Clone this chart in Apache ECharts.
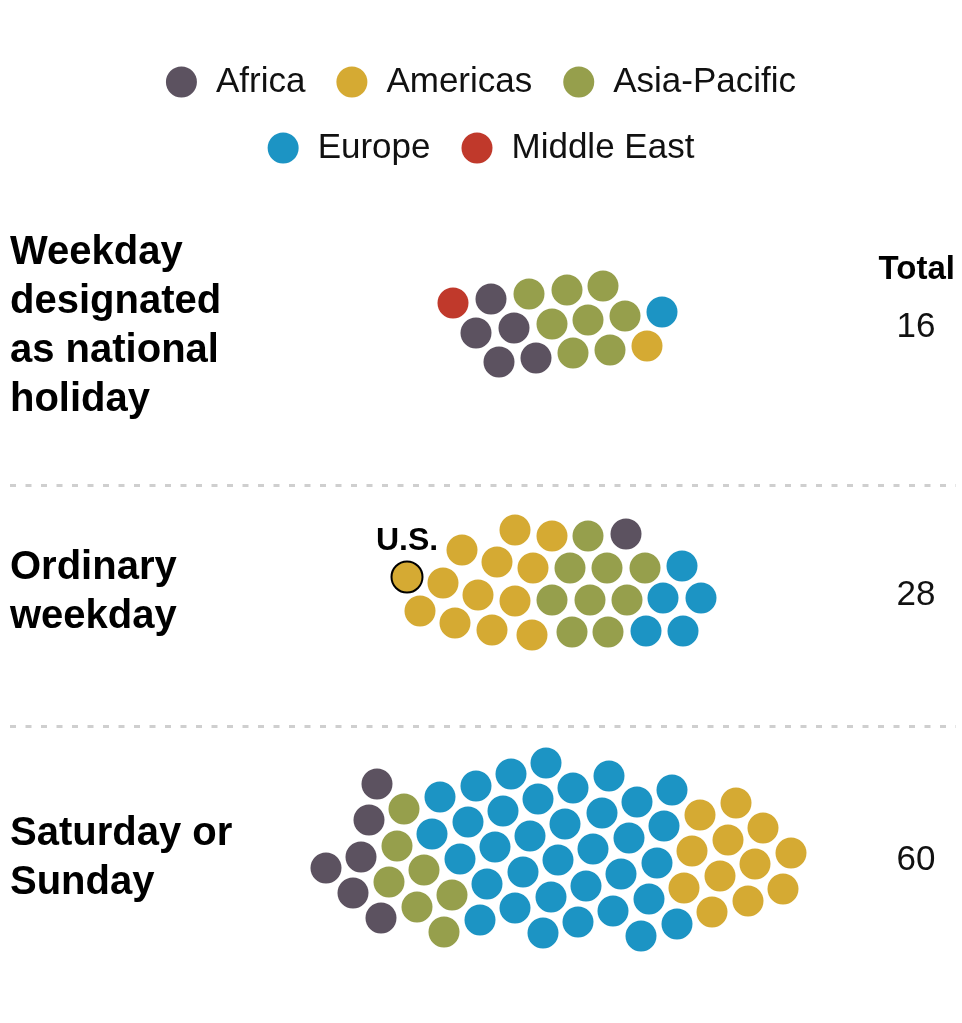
<!DOCTYPE html>
<html>
<head>
<meta charset="utf-8">
<script src="https://cdn.jsdelivr.net/npm/echarts@6/dist/echarts.min.js"></script>
<style>
html,body{margin:0;padding:0;background:#fff}
#chart{width:962px;height:1023px}
</style>
</head>
<body>
<div id="chart"></div>
<script>
var regions = ['Africa', 'Americas', 'Asia-Pacific', 'Europe', 'Middle East'];
var colors = ['#5c5260', '#d5aa33', '#969f4c', '#1c94c4', '#c0392b'];
var rowNames = ['Weekday\ndesignated\nas national\nholiday', 'Ordinary\nweekday', 'Saturday or\nSunday'];
var totals = [16, 28, 60];

// beeswarm dots: [x, y, region]
var holiday = [
	[453,303,'Middle East'],
	[491,299,'Africa'],[476,333,'Africa'],[514,328,'Africa'],[499,362,'Africa'],[536,358,'Africa'],
	[529,294,'Asia-Pacific'],[567,290,'Asia-Pacific'],[603,286,'Asia-Pacific'],[552,324,'Asia-Pacific'],
	[588,320,'Asia-Pacific'],[625,316,'Asia-Pacific'],[573,353,'Asia-Pacific'],[610,350,'Asia-Pacific'],
	[662,312,'Europe'],
	[647,346,'Americas']
];
var usDot = [407,577];
var weekday = [
	[515,530,'Americas'],[552,536,'Americas'],[462,550,'Americas'],[497,562,'Americas'],[533,568,'Americas'],
	[443,583,'Americas'],[478,595,'Americas'],[515,601,'Americas'],[420,611,'Americas'],[455,623,'Americas'],
	[492,630,'Americas'],[532,635,'Americas'],
	[588,536,'Asia-Pacific'],[570,568,'Asia-Pacific'],[607,568,'Asia-Pacific'],[645,568,'Asia-Pacific'],
	[552,600,'Asia-Pacific'],[590,600,'Asia-Pacific'],[627,600,'Asia-Pacific'],[572,632,'Asia-Pacific'],
	[608,632,'Asia-Pacific'],
	[626,534,'Africa'],
	[682,566,'Europe'],[663,598,'Europe'],[701,598,'Europe'],[646,631,'Europe'],[683,631,'Europe']
];
var weekend = [
	[377,784,'Africa'],[369,820,'Africa'],[361,857,'Africa'],[326,868,'Africa'],[353,893,'Africa'],[381,918,'Africa'],
	[404,809,'Asia-Pacific'],[397,846,'Asia-Pacific'],[389,882,'Asia-Pacific'],[424,870,'Asia-Pacific'],
	[417,907,'Asia-Pacific'],[452,895,'Asia-Pacific'],[444,932,'Asia-Pacific'],
	[440,797,'Europe'],[476,786,'Europe'],[511,774,'Europe'],[546,763,'Europe'],[432,834,'Europe'],
	[468,822,'Europe'],[503,811,'Europe'],[538,799,'Europe'],[573,788,'Europe'],[460,859,'Europe'],
	[495,847,'Europe'],[530,836,'Europe'],[565,824,'Europe'],[487,884,'Europe'],[523,872,'Europe'],
	[558,860,'Europe'],[480,920,'Europe'],[515,908,'Europe'],[551,897,'Europe'],[543,933,'Europe'],
	[578,922,'Europe'],[609,776,'Europe'],[637,802,'Europe'],[672,790,'Europe'],[602,813,'Europe'],
	[629,838,'Europe'],[664,826,'Europe'],[593,849,'Europe'],[621,874,'Europe'],[657,863,'Europe'],
	[586,886,'Europe'],[613,911,'Europe'],[649,899,'Europe'],[641,936,'Europe'],[677,924,'Europe'],
	[700,815,'Americas'],[736,803,'Americas'],[763,828,'Americas'],[692,851,'Americas'],[728,840,'Americas'],
	[755,864,'Americas'],[791,853,'Americas'],[684,888,'Americas'],[720,876,'Americas'],[748,901,'Americas'],
	[783,889,'Americas'],[712,912,'Americas']
];

var font = "'Liberation Sans', Arial, sans-serif";
var allDots = holiday.concat(weekday, weekend);

var chart = echarts.init(document.getElementById('chart'));

var series = regions.map(function (r, i) {
	var data = allDots.filter(function (d) { return d[2] === r; }).map(function (d) { return [d[0], d[1]]; });
	if (r === 'Americas') {
		data.push({
			value: usDot,
			itemStyle: { borderColor: '#000', borderWidth: 2 },
			label: {
				show: true, position: 'top', distance: 3, formatter: 'U.S.',
				fontFamily: font, fontWeight: 'bold', fontSize: 32, color: '#000'
			}
		});
	}
	return {
		name: r,
		type: 'scatter',
		symbol: 'circle',
		symbolSize: 31,
		itemStyle: { color: colors[i], opacity: 1 },
		data: data,
		silent: true
	};
});

var graphics = [];
var rowY = [253, 568, 834];   // first line center of row label
var totalY = [327, 595, 860];
rowNames.forEach(function (n, i) {
	graphics.push({
		type: 'text', left: 10, top: rowY[i] - 24.5,
		style: { text: n, font: 'bold 40px ' + font, fill: '#000', lineHeight: 49 }
	});
	graphics.push({
		type: 'text', x: 916, y: totalY[i],
		style: { text: String(totals[i]), font: '35px ' + font, fill: '#111', align: 'center', verticalAlign: 'middle' }
	});
});
graphics.push({
	type: 'text', x: 955, y: 270,
	style: { text: 'Total', font: 'bold 33px ' + font, fill: '#000', align: 'right', verticalAlign: 'middle' }
});
[485.5, 726.5].forEach(function (y) {
	graphics.push({
		type: 'line', z: -1,
		shape: { x1: 10, y1: y, x2: 956, y2: y },
		style: { stroke: '#cfcfcf', lineWidth: 3, lineDash: [6, 9.5] }
	});
});

var legendText = { fontFamily: font, fontSize: 35, color: '#111', lineHeight: 35, padding: [0, 0, 0, 14] };

chart.setOption({
	animation: false,
	color: colors,
	legend: [{
		data: regions.slice(0, 3),
		left: 'center', top: 64.5, padding: 0,
		icon: 'circle', itemWidth: 31, itemHeight: 31, itemGap: 31,
		selectedMode: false,
		textStyle: legendText
	}, {
		data: regions.slice(3),
		left: 'center', top: 130.5, padding: 0,
		icon: 'circle', itemWidth: 31, itemHeight: 31, itemGap: 31,
		selectedMode: false,
		textStyle: legendText
	}],
	grid: { left: 0, right: 0, top: 0, bottom: 0 },
	xAxis: { type: 'value', min: 0, max: 962, show: false },
	yAxis: { type: 'value', min: 0, max: 1023, inverse: true, show: false },
	graphic: graphics,
	series: series
});
</script>
</body>
</html>
